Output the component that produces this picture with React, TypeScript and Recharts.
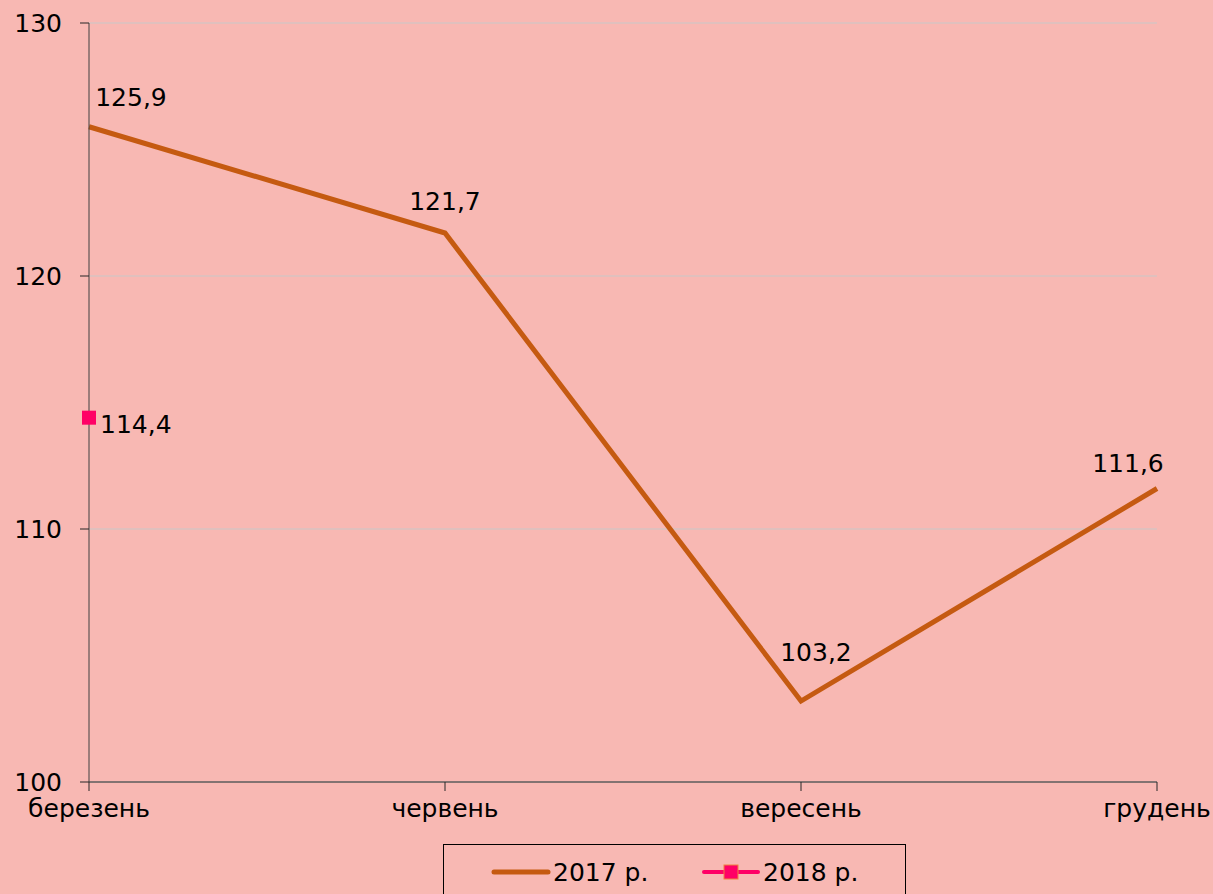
import React from "react";
import {
  LineChart,
  Line,
  XAxis,
  YAxis,
  CartesianGrid,
  LabelList,
} from "recharts";

// місяці та індекси
const months = ["березень", "червень", "вересень", "грудень"];
const values2017 = [125.9, 121.7, 103.2, 111.6];
const values2018: (number | null)[] = [114.4, null, null, null];
const yTicks = [100, 110, 120, 130];
const seriesNames = ["2017 р.", "2018 р."];

const data = months.map((m, i) => ({
  month: m,
  y2017: values2017[i],
  y2018: values2018[i],
}));

const FONT = "'DejaVu Sans', Verdana, sans-serif";
const BG = "#F8B8B3";
const C2017 = "#C55A11";
const C2018 = "#FF0066";

// зсув підписів відносно точки (центр тексту, базова лінія)
const labelShift = [
  { dx: 42, dy: -21 },
  { dx: 0, dy: -23 },
  { dx: 15, dy: -40 },
  { dx: -29, dy: -17 },
];

const fmt = (v: number) => v.toFixed(1).replace(".", ",");

function Label2017(props: any) {
  const { x, y, value, index } = props;
  if (value == null) return null;
  const s = labelShift[index] ?? { dx: 0, dy: -20 };
  return (
    <text
      x={x + s.dx}
      y={y + s.dy}
      textAnchor="middle"
      fontSize={25}
      fontFamily={FONT}
      fill="#000"
    >
      {fmt(value)}
    </text>
  );
}

function Label2018(props: any) {
  const { x, y, value } = props;
  if (value == null) return null;
  return (
    <text x={x + 11} y={y + 15} fontSize={25} fontFamily={FONT} fill="#000">
      {fmt(value)}
    </text>
  );
}

function SquareDot(props: any) {
  const { cx, cy, value } = props;
  if (value == null || cx == null || cy == null) return null;
  return (
    <rect x={cx - 7} y={cy - 7} width={14} height={14} fill={C2018} />
  );
}

function ChartLegend() {
  return (
    <div
      style={{
        position: "absolute",
        left: 443,
        top: 844,
        width: 463,
        height: 70,
        border: "1px solid #000",
        boxSizing: "border-box",
        fontFamily: FONT,
        fontSize: 25,
      }}
    >
      <svg width={463} height={70} style={{ position: "absolute", left: 0, top: 0 }}>
        <line x1={50} x2={104} y1={27} y2={27} stroke={C2017} strokeWidth={5} strokeLinecap="round" />
        <text x={109} y={36} fontSize={25} fontFamily={FONT}>{seriesNames[0]}</text>
        <line x1={260} x2={314} y1={27} y2={27} stroke={C2018} strokeWidth={4} strokeLinecap="round" />
        <rect x={280} y={20} width={14} height={14} fill={C2018} stroke="#F08040" strokeWidth={1} />
        <text x={319} y={36} fontSize={25} fontFamily={FONT}>{seriesNames[1]}</text>
      </svg>
    </div>
  );
}

export default function App() {
  return (
    <div
      style={{
        position: "absolute",
        left: 0,
        top: 0,
        width: 1213,
        height: 894,
        overflow: "hidden",
        background: BG,
      }}
    >
      <LineChart
        width={1213}
        height={894}
        data={data}
        margin={{ top: 23, right: 56, bottom: 72, left: 0 }}
      >
        <CartesianGrid vertical={false} stroke="#C8C8C8" strokeWidth={1} />
        <XAxis
          dataKey="month"
          height={40}
          padding={{ left: 0, right: 0 }}
          axisLine={{ stroke: "#262626" }}
          tickLine={{ stroke: "#262626" }}
          tickSize={9}
          tickMargin={8}
          tick={{ fontSize: 25, fontFamily: FONT, fill: "#000" }}
          interval={0}
        />
        <YAxis
          width={89}
          domain={[100, 130]}
          ticks={yTicks}
          axisLine={{ stroke: "#404040" }}
          tickLine={{ stroke: "#262626" }}
          tickSize={9}
          tickMargin={18}
          tick={{ fontSize: 25, fontFamily: FONT, fill: "#000" }}
        />
        <Line
          dataKey="y2017"
          name={seriesNames[0]}
          stroke={C2017}
          strokeWidth={5}
          dot={false}
          isAnimationActive={false}
        >
          <LabelList dataKey="y2017" content={<Label2017 />} />
        </Line>
        <Line
          dataKey="y2018"
          name={seriesNames[1]}
          stroke={C2018}
          strokeWidth={4}
          dot={<SquareDot />}
          isAnimationActive={false}
        >
          <LabelList dataKey="y2018" content={<Label2018 />} />
        </Line>
      </LineChart>
      <ChartLegend />
    </div>
  );
}
